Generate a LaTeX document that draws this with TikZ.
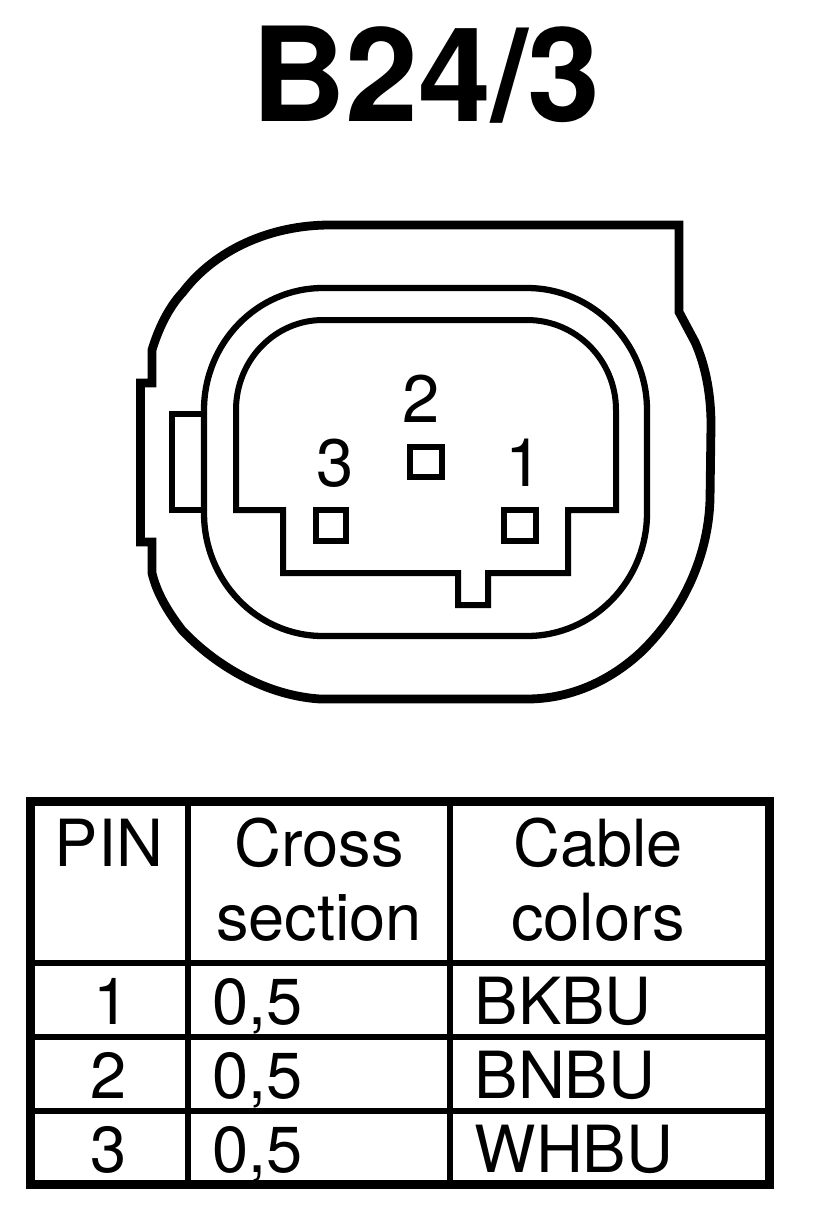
\documentclass[tikz,border=0pt]{standalone}
\usepackage{fontspec}
\setmainfont{TeX Gyre Heros}
\tikzset{
 outer/.style={line width=8.8pt,line join=miter},
 ring/.style={line width=6.3pt},
 thin/.style={line width=6pt,line join=miter},
 rule/.style={line width=6pt},
 frame/.style={line width=9pt},
 lab/.style={font=\fontsize{67}{67}\selectfont,inner sep=0pt},
 tab/.style={font=\fontsize{65}{65}\selectfont,inner sep=0pt,anchor=base},
 tabl/.style={font=\fontsize{65}{65}\selectfont,inner sep=0pt,anchor=base west}
}
\begin{document}
\begin{tikzpicture}[x=1pt,y=-1pt]
\useasboundingbox (0,0) rectangle (816,1232);
\fill[white] (0,0) rectangle (816,1232);
\node[font=\bfseries\fontsize{131}{131}\selectfont,inner sep=0pt,anchor=base] (title) at (426,121) {B24/3};
% outer shell
\draw[outer] (679,225) -- (679,312) -- (695,342)
 .. controls (704,362) and (711,390) .. (711,425) -- (710,500)
 .. controls (708,560) and (680,615) .. (640,653)
 .. controls (605,685) and (565,699) .. (527,699) -- (320,699)
 .. controls (260,695) and (210,660) .. (182,630)
 .. controls (165,608) and (156,590) .. (152,573) -- (152,542) -- (140.5,542) -- (140.5,383) -- (152,383) -- (152,350)
 .. controls (158,330) and (168,308) .. (183,292)
 .. controls (215,250) and (270,225) .. (330,225) -- cycle;
% ring
\draw[ring] (323,288) -- (527,288) .. controls (593,288) and (647,343) .. (647,410) -- (647,513)
 .. controls (647,581) and (593,636) .. (527,636) -- (323,636)
 .. controls (257,636) and (204,581) .. (204,513) -- (204,410)
 .. controls (204,343) and (257,288) .. (323,288) -- cycle;
% inner
\draw[thin] (323,320) -- (527,320) .. controls (576,320) and (616,360) .. (616,410) -- (616,510) -- (568,510) -- (568,573) -- (488,573) -- (488,605) -- (458,605) -- (458,573) -- (283,573) -- (283,510) -- (236,510) -- (236,410)
 .. controls (236,360) and (275,320) .. (323,320) -- cycle;
% tab
\draw[thin] (204,414) -- (172,414) -- (172,510) -- (204,510);
% pins
\draw[thin] (316,510) rectangle (346,541);
\draw[thin] (504,510) rectangle (536,541);
\draw[thin] (410,447) rectangle (442,477);
\node[lab] (p2) at (421,399) {2};
\node[lab] (p3) at (335,463) {3};
\node[lab] (p1) at (524,463) {1};
% table
\draw[frame] (30.5,801.5) rectangle (769.5,1184.5);
\draw[rule] (188,801) -- (188,1185);
\draw[rule] (450,801) -- (450,1185);
\draw[rule] (30,963) -- (770,963);
\draw[rule] (30,1037) -- (770,1037);
\draw[rule] (30,1111) -- (770,1111);
\node[tab] (h1) at (109,866) {PIN};
\node[tab] (h2a) at (319,866) {Cross};
\node[tab] (h2b) at (319,940) {section};
\node[tab] (h3a) at (598,866) {Cable};
\node[tab] (h3b) at (598,940) {colors};
\node[tab] (r1) at (112,1024) {1};
\node[tab] (r2) at (109,1098) {2};
\node[tab] (r3) at (109,1172) {3};
\node[tabl] (c1) at (212,1024) {0,5};
\node[tabl] (c2) at (212,1098) {0,5};
\node[tabl] (c3) at (212,1172) {0,5};
\node[tabl] (d1) at (474.5,1024) {BKBU};
\node[tabl] (d2) at (474.5,1098) {BNBU};
\node[tabl] (d3) at (474.5,1172) {WHBU};
\end{tikzpicture}
\end{document}
